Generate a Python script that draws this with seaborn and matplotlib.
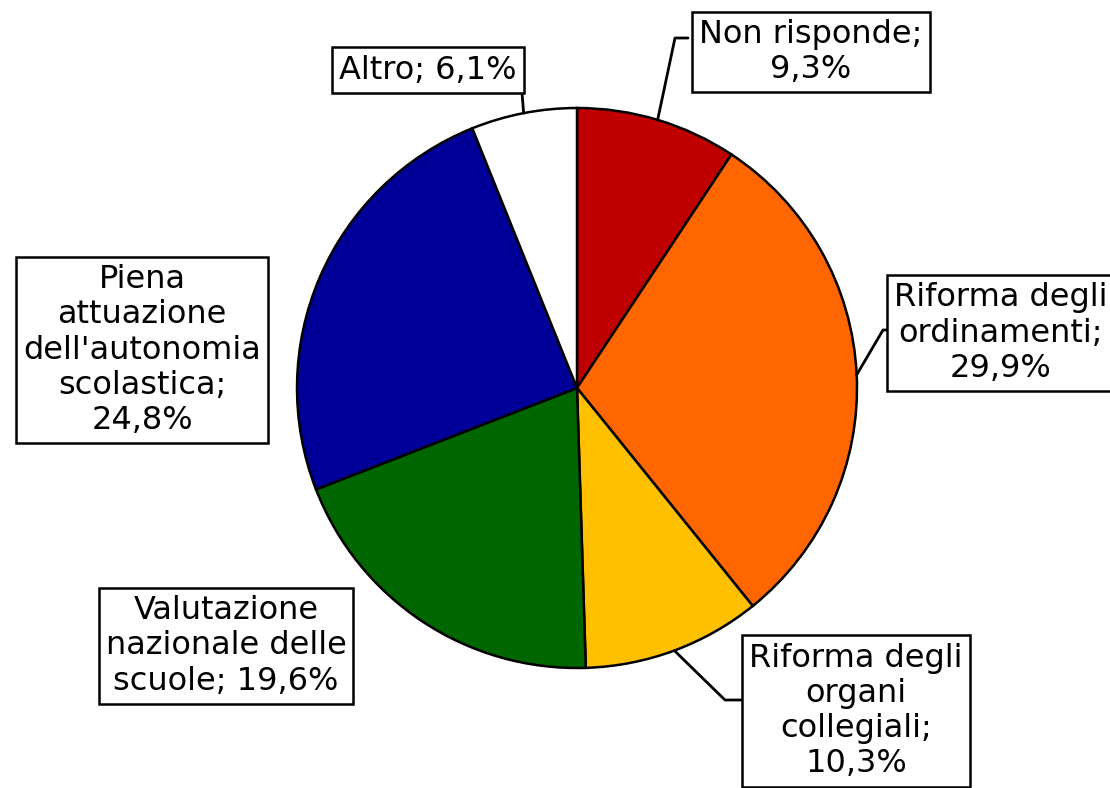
import numpy as np
import matplotlib
matplotlib.use("Agg")
import matplotlib.pyplot as plt
import seaborn as sns

sns.set_theme(style="white")
plt.rcParams['font.family'] = ['DejaVu Sans']

# dati
categorie = ["Non risponde", "Riforma degli\nordinamenti",
             "Riforma degli\norgani\ncollegiali",
             "Valutazione\nnazionale delle\nscuole",
             "Piena\nattuazione\ndell'autonomia\nscolastica", "Altro"]
valori = [9.3, 29.9, 10.3, 19.6, 24.8, 6.1]
etichette = ["Non risponde;\n9,3%", "Riforma degli\nordinamenti;\n29,9%",
             "Riforma degli\norgani\ncollegiali;\n10,3%",
             "Valutazione\nnazionale delle\nscuole; 19,6%",
             "Piena\nattuazione\ndell'autonomia\nscolastica;\n24,8%",
             "Altro; 6,1%"]
colori = ["#C00000", "#FF6600", "#FFC000", "#006600", "#000099", "#FFFFFF"]

W, H = 1110, 788
fig = plt.figure(figsize=(W / 100, H / 100), dpi=100)
ax = fig.add_axes([0, 0, 1, 1])
ax.set_xlim(0, W)
ax.set_ylim(0, H)
ax.set_aspect("equal", adjustable="box")
ax.axis("off")

cx, cy, r = 577, H - 388, 280
wedges, _ = ax.pie(valori, colors=colori, startangle=90, counterclock=False,
                   center=(cx, cy), radius=r,
                   wedgeprops=dict(edgecolor="black", linewidth=1.8))
ax.set_xlim(0, W)
ax.set_ylim(0, H)
ax.set_aspect("equal", adjustable="box")

# posizione etichette (pixel) e gomito della linea guida
pos = [(811, 52), (1001, 333), (856, 711), (226, 646), (142, 350), (428, 70)]
guide = {0: [(675, 38), (688, 38)],
         1: [(883, 330), (893, 330)],
         2: [(725, 700), (742, 700)],
         5: [(522, 93)]}

for i, (w, lab) in enumerate(zip(wedges, etichette)):
    x, y = pos[i]
    ax.text(x, H - y, lab, ha="center", va="center", multialignment="center",
            fontsize=23, linespacing=1.18, color="black", zorder=5,
            bbox=dict(boxstyle="square,pad=0.22", fc="white", ec="black", lw=1.8))
    if i in guide:
        ang = np.deg2rad((w.theta1 + w.theta2) / 2)
        px = [cx + r * np.cos(ang)] + [p[0] for p in guide[i]]
        py = [cy + r * np.sin(ang)] + [H - p[1] for p in guide[i]]
        ax.plot(px, py, color="black", lw=2, zorder=4)

plt.savefig("out.png", dpi=100, facecolor="white")
